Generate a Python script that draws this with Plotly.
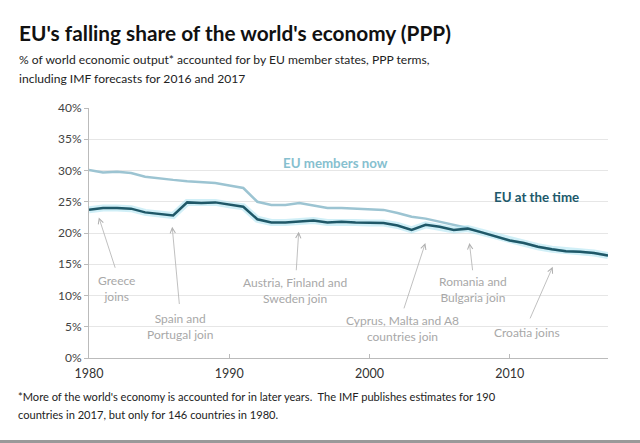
import plotly.graph_objects as go

years = list(range(1980, 2018))
eu_members_now = [30.1, 29.7, 29.8, 29.6, 29.0, 28.7, 28.5, 28.3, 28.2, 28.0,
                  27.6, 27.2, 25.0, 24.5, 24.5, 24.8, 24.4, 24.0, 24.0, 23.9,
                  23.7, 23.7, 23.2, 22.6, 22.3, 21.8, 21.4, 20.8, 20.1, 19.4,
                  18.8, 18.4, 17.8, 17.4, 17.1, 17.0, 16.8, 16.4]
eu_at_the_time = [23.7, 24.0, 24.0, 23.9, 23.3, 23.1, 22.8, 24.9, 24.8, 24.9,
                  24.5, 24.2, 22.2, 21.7, 21.7, 21.9, 22.0, 21.7, 21.8, 21.7,
                  21.6, 21.6, 21.2, 20.5, 21.3, 21.0, 20.5, 20.7, 20.1, 19.4,
                  18.8, 18.4, 17.8, 17.4, 17.1, 17.0, 16.8, 16.4]

y_ticks = [0, 5, 10, 15, 20, 25, 30, 35, 40]
y_tick_labels = [f"{v}%" for v in y_ticks]
x_ticks = [1980, 1990, 2000, 2010]

# events: label, text position (year, value), arrow tip (year, value), arrow tail (year, value)
events = [
    ("Greece<br>joins", 1981.96, 11.1, 1980.7, 22.5, 1981.9, 14.2),
    ("Spain and<br>Portugal join", 1986.5, 5.05, 1985.93, 21.0, 1986.45, 8.4),
    ("Austria, Finland and<br>Sweden join", 1994.65, 10.85, 1994.95, 20.2, 1994.77, 13.8),
    ("Cyprus, Malta and A8<br>countries join", 2002.32, 4.8, 2003.98, 18.4, 2002.42, 7.7),
    ("Romania and<br>Bulgaria join", 2007.36, 10.9, 2007.12, 18.4, 2007.36, 13.8),
    ("Croatia joins", 2011.23, 4.05, 2013.06, 14.6, 2011.4, 6.1),
]

title_text = "<b>EU's falling share of the world's economy (PPP)</b>"
subtitle_lines = ["% of world economic output* accounted for by EU member states, PPP terms,",
                  "including IMF forecasts for 2016 and 2017"]
footer_lines = ["*More of the world's economy is accounted for in later years.  The IMF publishes estimates for 190",
                "countries in 2017, but only for 146 countries in 1980."]

FONT = "Lato"
LIGHT = "#9cc4d2"
DARK = "#1f5868"

fig = go.Figure()
fig.add_trace(go.Scatter(x=years, y=eu_members_now, mode="lines",
                         line=dict(color=LIGHT, width=2.5), hoverinfo="skip",
                         showlegend=False))
fig.add_trace(go.Scatter(x=years, y=eu_at_the_time, mode="lines",
                         line=dict(color="rgba(170,225,240,0.55)", width=7),
                         hoverinfo="skip", showlegend=False))
fig.add_trace(go.Scatter(x=years, y=eu_at_the_time, mode="lines",
                         line=dict(color=DARK, width=2.5), hoverinfo="skip",
                         showlegend=False))

annotations = []
for label, tx, ty, hx, hy, ax, ay in events:
    annotations.append(dict(x=tx, y=ty, xref="x", yref="y", text=label,
                            showarrow=False, font=dict(family=FONT, size=12, color="#a8a8a8"),
                            align="center"))
    annotations.append(dict(x=hx, y=hy, xref="x", yref="y", ax=ax, ay=ay,
                            axref="x", ayref="y", text="", showarrow=True,
                            arrowhead=5, arrowsize=1.3, arrowwidth=0.8,
                            arrowcolor="#b0b0b0"))

annotations += [
    dict(x=1997.6, y=31.25, xref="x", yref="y", text="<b>EU members now</b>",
         showarrow=False, font=dict(family=FONT, size=13.3, color="#86c0cf")),
    dict(x=2011.9, y=25.8, xref="x", yref="y", text="<b>EU at the time</b>",
         showarrow=False, font=dict(family=FONT, size=13.3, color="#21596b")),
]

W, H = 640, 443
L, R, T, B = 89, 32, 108, 85
pw, ph = W - L - R, H - T - B

def px(x):
    return (x - L) / pw

def py(y):
    return (H - B - y) / ph

annotations.append(dict(x=px(17), y=py(33), xref="paper", yref="paper", xanchor="left",
                        yanchor="middle", text=title_text, showarrow=False,
                        font=dict(family=FONT, size=20.8, color="#111111")))
for line, ypx in zip(subtitle_lines, [59, 79]):
    annotations.append(dict(x=px(17), y=py(ypx), xref="paper", yref="paper", xanchor="left",
                            yanchor="middle", text=line, showarrow=False,
                            font=dict(family=FONT, size=12.1, color="#222222")))
for line, ypx in zip(footer_lines, [396, 414]):
    annotations.append(dict(x=px(16), y=py(ypx), xref="paper", yref="paper", xanchor="left",
                            yanchor="middle", text=line, showarrow=False,
                            font=dict(family=FONT, size=11.1, color="#222222")))

fig.update_layout(
    width=W, height=H,
    margin=dict(l=L, r=R, t=T, b=B),
    paper_bgcolor="white", plot_bgcolor="white",
    annotations=annotations,
    shapes=[dict(type="line", xref="paper", yref="paper", x0=px(0), x1=px(W),
                 y0=py(441.5), y1=py(441.5), line=dict(color="#999999", width=3))],
    xaxis=dict(range=[1980, 2017], tickvals=x_ticks, showgrid=False,
               showline=True, linecolor="#bbbbbb", linewidth=1,
               ticks="inside", ticklen=4, tickcolor="#bbbbbb", ticklabelstandoff=4,
               tickfont=dict(family=FONT, size=12.5, color="#333333"), zeroline=False),
    yaxis=dict(range=[0, 40], tickvals=y_ticks, ticktext=y_tick_labels,
               showgrid=True, gridcolor="#e6e6e6", gridwidth=1,
               showline=True, linecolor="#bbbbbb", linewidth=1,
               ticks="outside", ticklen=4, tickcolor="#bbbbbb",
               tickfont=dict(family=FONT, size=12, color="#444444"), zeroline=False),
)

fig.write_html("out.html")
